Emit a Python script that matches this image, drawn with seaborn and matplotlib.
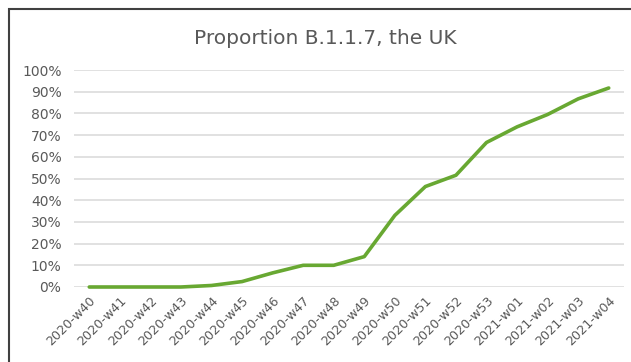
import matplotlib
matplotlib.use("Agg")
import matplotlib.pyplot as plt
import seaborn as sns
import pandas as pd
from matplotlib.patches import Rectangle
from matplotlib.ticker import PercentFormatter

weeks = ["2020-w40", "2020-w41", "2020-w42", "2020-w43", "2020-w44", "2020-w45",
         "2020-w46", "2020-w47", "2020-w48", "2020-w49", "2020-w50", "2020-w51",
         "2020-w52", "2020-w53", "2021-w01", "2021-w02", "2021-w03", "2021-w04"]
proportion = [0.0, 0.0, 0.0, 0.0, 0.7, 2.5, 6.5, 10.0, 10.0, 14.0, 33.0, 46.3,
              51.5, 66.6, 73.8, 79.5, 86.7, 91.7]
y_ticks = [0, 10, 20, 30, 40, 50, 60, 70, 80, 90, 100]

sns.set_style("white")
plt.rcParams['font.family'] = ['DejaVu Sans']

df = pd.DataFrame({"week": weeks, "pos": range(len(weeks)), "p": [v / 100 for v in proportion]})

fig = plt.figure(figsize=(6.31, 3.62), dpi=100)
ax = fig.add_axes([74/631, 1-287/362, (624-74)/631, (287-70)/362])

sns.lineplot(data=df, x="pos", y="p", ax=ax, color="#68a832", linewidth=2.6,
             clip_on=False, zorder=3)

ax.set_xlim(-0.5, len(weeks) - 0.5)
ax.set_ylim(0, 1)
ax.set_yticks([t / 100 for t in y_ticks])
ax.yaxis.set_major_formatter(PercentFormatter(1.0, decimals=0))
ax.set_xticks(range(len(weeks)))
ax.set_xticklabels(weeks, rotation=45, ha="right", rotation_mode="anchor")
ax.grid(axis="y", color="#d9d9d9", linewidth=1.1)
ax.grid(axis="x", visible=False)
for s in ax.spines.values():
    s.set_visible(False)
ax.tick_params(axis="both", length=0, colors="#595959")
ax.tick_params(axis="y", pad=9, labelsize=10)
ax.tick_params(axis="x", pad=5, labelsize=9.2)
ax.set_xlabel("")
ax.set_ylabel("")

fig.text(325/631, 1-39/362, "Proportion B.1.1.7, the UK", ha="center", va="center",
         fontsize=14.5, color="#595959")

fig.patches.append(Rectangle((9/631, -0.05), 1.0, 1-9/362 + 0.05, transform=fig.transFigure,
                             fill=False, edgecolor="#404040", linewidth=1.5))

fig.savefig("out.png", dpi=100)
